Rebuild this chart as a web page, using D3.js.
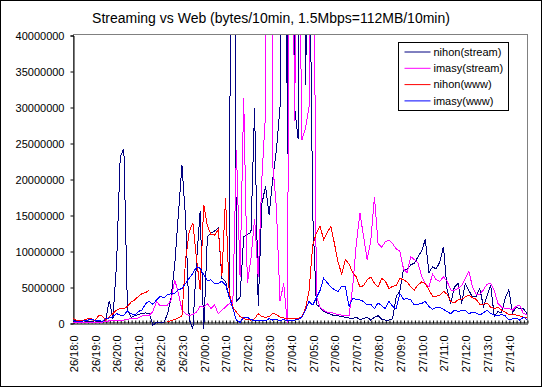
<!DOCTYPE html>
<html>
<head>
<meta charset="utf-8">
<script src="https://cdn.jsdelivr.net/npm/d3@7"></script>
<style>
    body { margin: 0; background: #fff; }
    text { font-family: 'Liberation Sans', Arial, sans-serif; }
</style>
</head>
<body>
<div id="chart"></div>
<script>
// one category every 10 minutes, a label every hour
const tickLabels = ['26/18:0', '26/19:0', '26/20:0', '26/21:0', '26/22:0', '26/23:0', '27/00:0',
    '27/01:0', '27/02:0', '27/03:0', '27/04:0', '27/05:0', '27/06:0', '27/07:0', '27/08:0',
    '27/09:0', '27/10:0', '27/11:0', '27/12:0', '27/13:0', '27/14:0'];

// values in millions of bytes per 10 min
const nihonStream = [
    0.4, 0.3, 0.2, 0.3, 0.2, 0.2, 0.3, 0.2, 0.2, 0.5,
    3.1, 0.6, 8.3, 23.1, 24.2, 1.8, 0.8, 1.0, 1.2, 1.3,
    1.4, 1.3, -0.3, 0.1, 0.1, 0.1, 1.2, 3.5, 8.0, 15.0,
    21.9, 14.5, 0.5, -0.8, 8.5, 15.5, -0.8, 12.0, 12.5, 12.8,
    13.2, 6.2, 5.8, 3.5, 125, 3.0, 3.6, 12.0, 12.3, 12.6,
    29.8, 2.3, 16.5, 19.0, 15.0, 20.0, 24.0, 30.0, 150, 23.5,
    120, 30.0, 25.5, 150, 33, 60, 15.3, 2.6, 2.2, 1.6,
    1.4, 1.2, 1.0, 1.0, 0.9, 0.8, 0.7, 0.6, 0.8, 0.5,
    0.6, 0.8, 0.4, 0.8, 1.0, 0.5, 0.4, 0.4, 0.6, 3.7,
    4.4, 7.5, 7.4, 8.1, 8.3, 9.2, 10.0, 11.6, 7.0, 7.8,
    7.5, 8.5, 10.6, 4.6, 2.7, 5.0, 5.5, 2.7, 5.5, 4.5,
    3.6, 3.7, 4.8, 2.3, 3.8, 5.2, 0.9, 1.6, 1.4, 3.5,
    4.6, 1.4, 2.2, 2.0, 2.0, 1.3
];
const imasyStream = [
    0.1, 0.05, 0.05, 0.05, 0.05, 0.05, 0.05, 0.1, 0.1, 0.2,
    0.3, 0.4, 0.4, 0.4, 0.4, 0.5, 0.6, 0.6, 0.7, 1.0,
    1.0, 1.1, 1.6, 3.0, 2.4, 2.5, 2.5, 3.2, 6.0, 4.2,
    1.8, 1.3, 1.0, 1.2, 1.5, 2.3, 2.2, 2.7, 2.0, 2.5,
    1.3, 1.8, 2.2, 2.7, 2.5, 24.0, 6.4, 31.2, 5.5, 9.0,
    14.5, 6.4, 20.0, 29.0, 300, 22.0, 16.0, 3.0, 5.5, 0.0,
    90, 28, 70, 25.4, 27, 30, 80, 3.7, 2.2, 1.8,
    1.5, 1.5, 1.3, 1.2, 1.1, 1.1, 1.0, 5.0, 11.0, 15.3,
    12.0, 8.8, 11.5, 17.5, 11.0, 10.5, 11.3, 11.5, 11.0, 10.3,
    10.0, 7.5, 7.0, 9.2, 8.8, 8.3, 6.5, 5.5, 5.0, 6.8,
    6.0, 5.8, 6.4, 5.8, 4.6, 4.5, 4.8, 5.2, 6.2, 7.2,
    5.0, 4.0, 4.0, 4.6, 5.4, 5.5, 4.5, 2.7, 2.2, 2.0,
    2.0, 1.8, 2.3, 2.5, 1.3, 1.2
];
const nihonWww = [
    0.6, 0.4, 0.4, 0.4, 0.6, 0.6, 0.3, 1.0, 1.0, 0.4,
    0.9, 1.3, 1.8, 2.0, 2.0, 2.3, 2.9, 3.2, 3.7, 4.1,
    4.2, 4.6, null, null, null, null, 0.2, 0.3, 0.5, 0.7,
    1.0, 8.8, 12.7, 13.9, 9.0, 4.6, 16.4, 13.5, 12.3, 12.2,
    13.0, 6.6, 17.4, 4.2, 2.2, 1.5, 0.9, 0.6, 0.5, 0.4,
    0.6, 1.3, 0.9, 0.8, 0.9, 1.3, 1.2, 0.8, 0.7, 0.6,
    0.6, 0.6, 0.6, 0.9, 2.0, 4.5, 10.8, 12.5, 13.5, 11.6,
    12.6, 13.4, 11.0, 8.4, 6.8, 8.8, 8.2, 7.0, 6.4, 5.0,
    5.2, 6.0, 6.4, 5.5, 5.0, 6.2, 5.8, 4.8, 5.1, 5.2,
    6.2, 6.0, 5.7, 5.0, 4.6, 5.3, 5.7, 5.5, 4.6, 3.7,
    3.7, 3.9, 4.4, 4.0, 3.0, 2.8, 3.2, 3.3, 3.6, 3.9,
    3.5, 3.3, 2.6, 2.6, 2.8, 2.2, 2.0, 2.2, 1.8, 1.5,
    1.2, 1.2, 1.1, 1.0, 0.8, 0.7
];
const imasyWww = [
    0.3, 0.2, 0.2, 0.3, 0.4, 0.5, 0.4, 0.4, 0.2, 0.6,
    0.7, 0.9, 1.3, 1.1, 1.1, 1.7, 1.3, 1.1, 1.6, 1.8,
    2.7, 3.0, 2.6, 3.2, 3.7, 3.5, 3.9, 4.1, 4.1, 4.6,
    4.8, 5.5, 6.2, 6.9, 7.8, 7.6, 6.7, 5.9, 6.0, 5.5,
    5.5, 5.8, 5.3, 3.7, 2.0, 0.4, 0.1, 0.8, 0.8, 0.5,
    0.3, 0.4, 0.3, 0.3, 0.6, 0.4, 0.5, 0.3, 0.5, 0.3,
    0.3, 0.4, 0.5, 0.8, 1.8, 3.0, 2.5, 3.5, 4.5, 6.2,
    5.6, 5.0, 4.6, 4.4, 5.1, 5.0, 2.3, 3.4, 3.3, 3.2,
    3.0, 2.5, 2.6, 2.0, 2.8, 2.4, 2.0, 3.0, 2.3, 2.0,
    4.1, 3.3, 3.4, 3.2, 2.5, 2.6, 2.7, 3.0, 2.3, 1.9,
    2.2, 2.2, 1.9, 1.6, 1.3, 1.8, 1.6, 1.7, 1.8, 1.3,
    1.5, 1.4, 1.1, 1.4, 1.8, 1.3, 1.1, 1.0, 1.2, 1.0,
    0.4, 0.6, 0.7, 0.4, 0.8, 0.5
];

const series = [
    { name: 'nihon(stream)', values: nihonStream, color: '#000080' },
    { name: 'imasy(stream)', values: imasyStream, color: '#ff00ff' },
    { name: 'nihon(www)', values: nihonWww, color: '#ff0000' },
    { name: 'imasy(www)', values: imasyWww, color: '#0000ff' }
];

const width = 543;
const height = 388;
const plot = { left: 73, top: 35, right: 527, bottom: 323 };

const svg = d3.select('#chart').append('svg')
    .attr('width', width)
    .attr('height', height)
    .style('display', 'block');

// chart frame
svg.append('rect')
    .attr('x', 0.5).attr('y', 0.5)
    .attr('width', 541).attr('height', 386)
    .attr('fill', '#fff')
    .attr('stroke', '#000');

const x = d3.scaleLinear().domain([0, nihonStream.length - 1]).range([plot.left, plot.right]);
const y = d3.scaleLinear().domain([0, 40000000]).range([plot.bottom, plot.top]);

// plot area border (grey on top and right)
svg.append('rect')
    .attr('x', plot.left + 0.5).attr('y', plot.top - 0.5)
    .attr('width', plot.right - plot.left).attr('height', plot.bottom - plot.top)
    .attr('fill', 'none')
    .attr('stroke', '#808080');

// title
svg.append('text')
    .attr('x', 271).attr('y', 23)
    .attr('text-anchor', 'middle')
    .style('font-size', '14px')
    .text('Streaming vs Web (bytes/10min, 1.5Mbps=112MB/10min)');

// y axis
const yAxis = d3.axisLeft(y)
    .tickValues(d3.range(0, 40000001, 5000000))
    .tickSize(3)
    .tickPadding(6)
    .tickFormat(d3.format('d'));

svg.append('g')
    .attr('transform', `translate(${plot.left + 0.5},0.5)`)
    .call(yAxis)
    .call((g) => g.selectAll('text').style('font-size', '11px').attr('fill', '#000'))
    .call((g) => g.selectAll('line,path').attr('stroke', '#000'));

// x axis: a small tick at every category, labels every 6th
const xAxis = d3.axisBottom(x)
    .tickValues(d3.range(0, nihonStream.length))
    .tickSizeInner(-3)
    .tickSizeOuter(0)
    .tickFormat((i) => (i % 6 === 0 ? tickLabels[i / 6] : ''));

svg.append('g')
    .attr('transform', `translate(0.5,${plot.bottom + 0.5})`)
    .call(xAxis)
    .call((g) => g.selectAll('line,path').attr('stroke', '#000'))
    .call((g) => g.selectAll('text')
        .style('font-size', '11px')
        .attr('fill', '#000')
        .attr('text-anchor', 'end')
        .attr('transform', 'rotate(-90)')
        .attr('x', -12)
        .attr('y', 0)
        .attr('dy', '0.35em'));

// lines, clipped at the top of the plot area
svg.append('clipPath')
    .attr('id', 'plot-clip')
    .append('rect')
    .attr('x', plot.left)
    .attr('y', plot.top)
    .attr('width', plot.right - plot.left + 1)
    .attr('height', height - plot.top);

const line = d3.line()
    .defined((d) => d !== null)
    .x((d, i) => x(i))
    .y((d) => y(d * 1000000));

svg.append('g')
    .attr('clip-path', 'url(#plot-clip)')
    .selectAll('path')
    .data(series)
    .enter()
    .append('path')
    .attr('fill', 'none')
    .attr('stroke', (d) => d.color)
    .attr('stroke-width', 1)
    .attr('shape-rendering', 'crispEdges')
    .attr('d', (d) => line(d.values));

// legend
const legend = svg.append('g').attr('transform', 'translate(398.5,42.5)');
legend.append('rect')
    .attr('width', 110).attr('height', 68)
    .attr('fill', '#fff')
    .attr('stroke', '#000');

const entry = legend.selectAll('.entry')
    .data(series)
    .enter()
    .append('g')
    .attr('transform', (d, i) => `translate(0,${9.5 + i * 16.3})`);

entry.append('line')
    .attr('x1', 6).attr('x2', 32)
    .attr('stroke', (d) => d.color);

entry.append('text')
    .attr('x', 35)
    .attr('dy', '0.35em')
    .style('font-size', '11px')
    .text((d) => d.name);
</script>
</body>
</html>
